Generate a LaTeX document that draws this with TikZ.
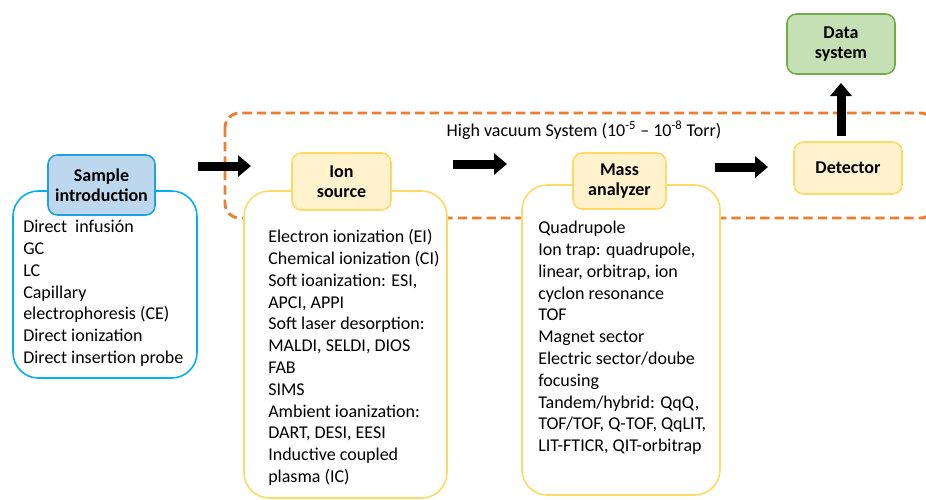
\documentclass[tikz,border=0pt]{standalone}
\usepackage{fontspec}
\setmainfont{Carlito}
\usetikzlibrary{arrows.meta}
\definecolor{blueF}{HTML}{BDD7EE}
\definecolor{blueB}{HTML}{00B0F0}
\definecolor{blueH}{HTML}{1FA2E4}
\definecolor{yelF}{HTML}{FFF2CC}
\definecolor{yelB}{HTML}{FFD966}
\definecolor{grnF}{HTML}{C5E0B4}
\definecolor{grnB}{HTML}{70AD47}
\definecolor{orng}{HTML}{ED7D31}
\begin{document}
\begin{tikzpicture}[x=0.75pt,y=-0.75pt,
  outerbox/.style={draw, fill=white, rounded corners=19pt, line width=1.2pt, inner sep=0pt},
  hdr/.style={draw, rounded corners=7pt, line width=1.2pt, inner sep=0pt, align=center,
    font=\fontsize{13.5}{15}\selectfont\bfseries},
  listtxt/.style={anchor=north west, align=left, inner sep=0pt,
    font=\fontsize{13.5}{16.35}\selectfont},
  bigarrow/.style={line width=6.75pt, -{Triangle[length=9.75pt,width=15.75pt]}},
  vacbox/.style={draw=orng, line width=2.2pt, dash pattern=on 7pt off 3.8pt, rounded corners=11pt}
]
\useasboundingbox (0,0) rectangle (926,500);
% vacuum region
\begin{scope}
\clip (0,0) rectangle (926,500);
\draw[vacbox] (225,113) rectangle (935,218);
\end{scope}
\node[font=\fontsize{13.5}{15}\selectfont] (vac) at (584,130) {High vacuum System (10\textsuperscript{-5} – 10\textsuperscript{-8} Torr)};
% outer boxes
\node[outerbox, draw=blueB, minimum width={184*0.75pt}, minimum height={187*0.75pt}] (sampleO) at (105,284.5) {};
\node[outerbox, draw=yelB, minimum width={203*0.75pt}, minimum height={307*0.75pt}] (ionO) at (345.5,344.5) {};
\node[outerbox, draw=yelB, minimum width={198*0.75pt}, minimum height={310*0.75pt}] (massO) at (621,340) {};
% headers
\node[hdr, draw=blueH, fill=blueF, minimum width={107*0.75pt}, minimum height={60*0.75pt}] (sampleH) at (101.5,185) {Sample\\introduction};
\node[hdr, draw=yelB, fill=yelF, minimum width={99*0.75pt}, minimum height={57*0.75pt}] (ionH) at (341.5,181.5) {Ion\\source};
\node[hdr, draw=yelB, fill=yelF, minimum width={93*0.75pt}, minimum height={56*0.75pt}] (massH) at (619.5,181) {Mass\\analyzer};
\node[hdr, draw=yelB, fill=yelF, minimum width={108*0.75pt}, minimum height={52*0.75pt}] (det) at (848,168) {Detector};
\node[hdr, draw=grnB, fill=grnF, minimum width={108*0.75pt}, minimum height={60*0.75pt}] (data) at (841,44) {Data\\system};
% lists
\node[listtxt] (sampleL) at (23,217.2) {\strut Direct\ \ infusión\\GC\\LC\\Capillary\\electrophoresis (CE)\\Direct ionization\\Direct insertion probe};
\node[listtxt] (ionL) at (268,227.2) {\strut Electron ionization (EI)\\Chemical ionization (CI)\\Soft ioanization: ESI,\\APCI, APPI\\Soft laser desorption:\\MALDI, SELDI, DIOS\\FAB\\SIMS\\Ambient ioanization:\\DART, DESI, EESI\\Inductive coupled\\plasma (IC)};
\node[listtxt] (massL) at (538,218.2) {\strut Quadrupole\\Ion trap: quadrupole,\\linear, orbitrap, ion\\cyclon resonance\\TOF\\Magnet sector\\Electric sector/doube\\focusing\\Tandem/hybrid: QqQ,\\TOF/TOF, Q-TOF, QqLIT,\\LIT-FTICR, QIT-orbitrap};
% arrows
\coordinate (a1s) at (198,166);
\coordinate (a1e) at (251,166);
\coordinate (a2s) at (453,164);
\coordinate (a2e) at (507,164);
\coordinate (a3s) at (715,167);
\coordinate (a3e) at (768,167);
\coordinate (a4s) at (841,136);
\coordinate (a4e) at (841,83);
\draw[bigarrow] (a1s) -- (a1e);
\draw[bigarrow] (a2s) -- (a2e);
\draw[bigarrow] (a3s) -- (a3e);
\draw[bigarrow] (a4s) -- (a4e);
\end{tikzpicture}
\end{document}
